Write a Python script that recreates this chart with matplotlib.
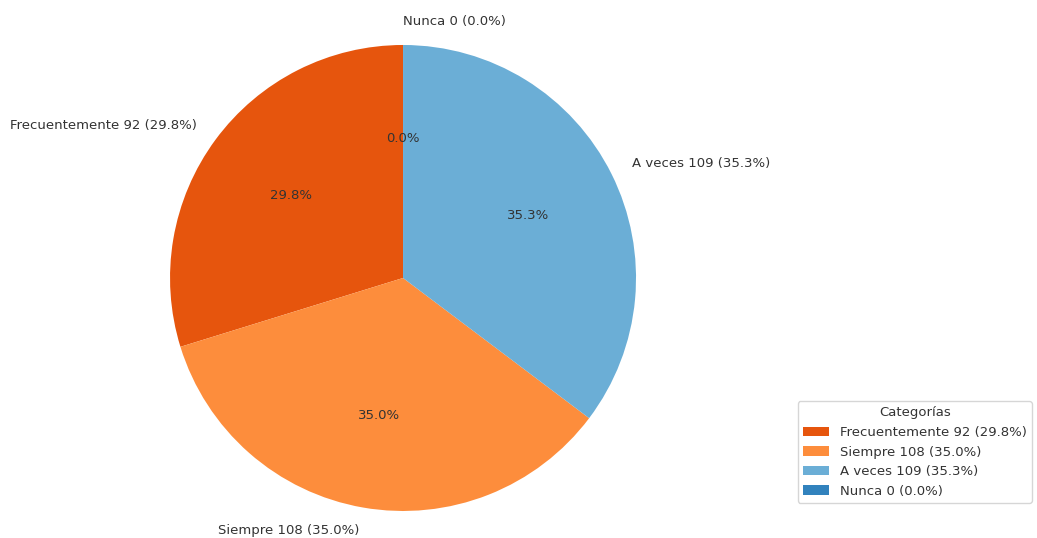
import matplotlib.pyplot as plt

# Survey answers
categories = ['Frecuentemente', 'Siempre', 'A veces', 'Nunca']
counts = [92, 108, 109, 0]
percents = [29.8, 35.0, 35.3, 0.0]
colors = ['#e6550d', '#fd8d3c', '#6baed6', '#3182bd']

labels = [f'{c} {n} ({p:.1f}%)' for c, n, p in zip(categories, counts, percents)]

plt.rcParams['text.color'] = '#333333'
plt.rcParams['font.size'] = 9.5

fig = plt.figure(figsize=(10.37, 5.38), dpi=100)
ax = fig.add_axes([0.1415, 0.0069, 0.4943, 0.9528])

wedges, texts, autotexts = ax.pie(
    counts,
    labels=labels,
    colors=colors,
    autopct='%1.1f%%',
    startangle=90,
    labeldistance=1.1,
    pctdistance=0.6,
)
# zero-size slice sits at the top; keep its label to the right of the axis
texts[3].set_ha('left')

ax.set_xlim(-1.1, 1.1)
ax.set_ylim(-1.1, 1.1)
ax.set_aspect('equal')

fig.legend(wedges, labels, title='Categorías', loc='lower right',
           bbox_to_anchor=(1032 / 1037, 35 / 538), borderaxespad=0)

fig.savefig('out.png', dpi=100)
